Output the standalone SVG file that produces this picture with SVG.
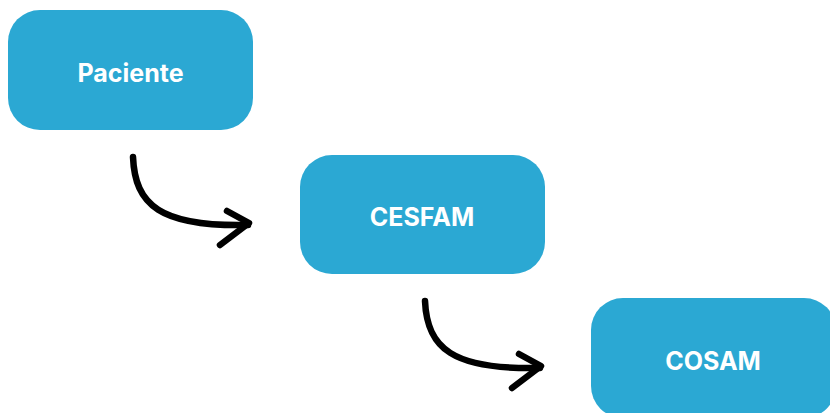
<svg xmlns="http://www.w3.org/2000/svg" width="830" height="413" viewBox="0 0 830 413">
<style>
.box{fill:#2ba8d3}
.lbl{fill:#fff;font-family:Inter,"Liberation Sans",sans-serif;font-weight:700;font-size:25px;text-anchor:middle;dominant-baseline:central}
.arr{fill:none;stroke:#000;stroke-width:6.5;stroke-linecap:round;stroke-linejoin:round}
</style>
<rect width="830" height="413" fill="#fff"/>
<g id="paciente"><rect class="box" x="8" y="10" width="245" height="120" rx="32"/><text class="lbl" x="130.5" y="73">Paciente</text></g>
<g id="cesfam"><rect class="box" x="300" y="155" width="245" height="119" rx="32"/><text class="lbl" x="422" y="217">CESFAM</text></g>
<g id="cosam"><rect class="box" x="591" y="298" width="245" height="120" rx="32"/><text class="lbl" x="713" y="361">COSAM</text></g>
<g id="connectors">
<path class="arr" d="M133,157 C135,205 160,227 248,225"/>
<path class="arr" d="M227,211 L249,223 L220,245"/>
<path class="arr" d="M425,301 C427,348 452,370 540,368"/>
<path class="arr" d="M519,354 L541,366 L512,388"/>
</g>
</svg>
